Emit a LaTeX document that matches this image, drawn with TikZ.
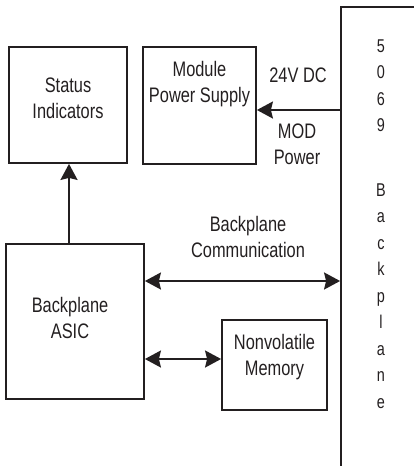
\documentclass[tikz,border=0pt]{standalone}
\usepackage{fontspec}
\setmainfont{Liberation Sans}[FakeStretch=0.78]
\usepackage{tikz}
\usetikzlibrary{arrows.meta, positioning, calc}
\definecolor{ink}{HTML}{231F20}
\tikzstyle{block} = [
  rectangle, draw=ink, line width=1.8pt, inner sep=0pt
]
\tikzstyle{txt} = [
  text=ink, align=center, font=\fontsize{21}{26}\selectfont
]
\tikzstyle{arrow} = [-{Stealth[length=16pt, width=17pt, inset=2pt]}, line width=1.8pt, draw=ink]
\tikzstyle{dblarrow} = [{Stealth[length=16pt, width=17pt, inset=2pt]}-{Stealth[length=16pt, width=17pt, inset=2pt]}, line width=1.8pt, draw=ink]

\begin{document}
\begin{tikzpicture}[x=1pt, y=-1pt]

  \clip (0, 0) rectangle (414, 466);

  % blocks
  \node[block, minimum width=118pt, minimum height=116pt] (status) at (68, 105) {};
  \node[block, minimum width=113pt, minimum height=117pt] (mps) at (199.5, 105.5) {};
  \node[block, minimum width=138pt, minimum height=155pt] (asic) at (75, 321.5) {};
  \node[block, minimum width=105pt, minimum height=90pt] (nvm) at (274.5, 365) {};
  \node[block, minimum width=118pt, minimum height=486pt] (bp) at (400, 250) {};

  \node[txt] (statustxt) at (68, 98) {Status\\Indicators};
  \node[txt] (mpstxt) at (199.5, 84) {Module\\Power Supply};
  \node[txt] (asictxt) at (70, 318) {Backplane\\ASIC};
  \node[txt] (nvmtxt) at (274.5, 357) {Nonvolatile\\Memory};
  \node[txt, font=\fontsize{18.5}{26.5}\selectfont] (bptxt) at (381, 224)
    {5\\0\\6\\9\\[38pt]B\\a\\c\\k\\p\\l\\a\\n\\e};

  % connectors
  \coordinate (pwr) at (bp.west |- 0, 110);
  \draw[arrow] (pwr) -- (mps.east |- pwr);
  \node[txt] (dc) at (298, 75) {24V DC};
  \node[txt] (mod) at (297, 144) {MOD\\Power};

  \draw[arrow] (asic.north -| 69, 0) -- (status.south -| 69, 0);

  \coordinate (comm) at (asic.east |- 0, 281);
  \draw[dblarrow] (comm) -- (bp.west |- comm);
  \node[txt] (commtxt) at (248, 237) {Backplane\\Communication};

  \coordinate (mem) at (asic.east |- 0, 359);
  \draw[dblarrow] (mem) -- (nvm.west |- mem);

\end{tikzpicture}
\end{document}
